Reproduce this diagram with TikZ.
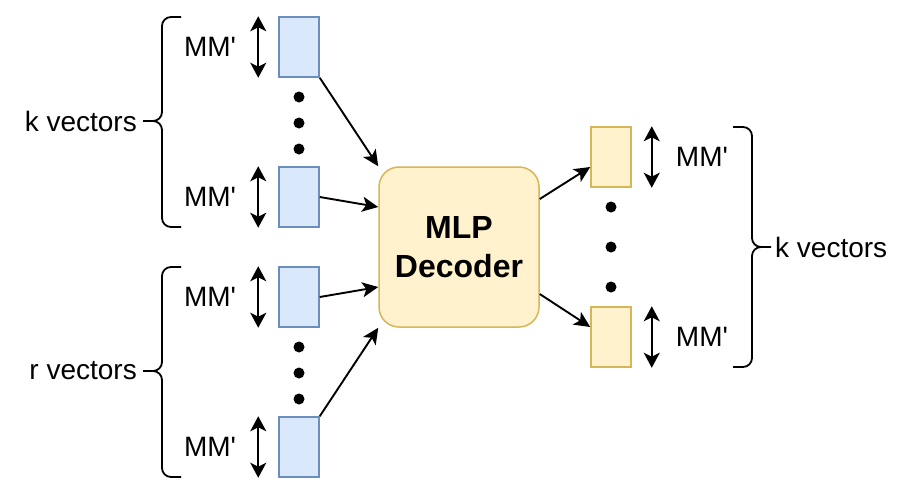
\documentclass[tikz,border=0pt]{standalone}
\usepackage{fontspec}
\newfontfamily\arial{Liberation Sans}
\usetikzlibrary{arrows.meta}

\definecolor{blueFill}{HTML}{DAE8FC}
\definecolor{blueLine}{HTML}{6C8EBF}
\definecolor{yellowFill}{HTML}{FFF2CC}
\definecolor{yellowLine}{HTML}{D6B656}

\tikzstyle{invec} = [draw=blueLine, fill=blueFill, line width=1.5pt, minimum width=40pt, minimum height=60pt, inner sep=0pt]
\tikzstyle{outvec} = [draw=yellowLine, fill=yellowFill, line width=1.5pt, minimum width=40pt, minimum height=60pt, inner sep=0pt]
\tikzstyle{decoder} = [draw=yellowLine, fill=yellowFill, line width=1.5pt, rounded corners=20pt, minimum width=160pt, minimum height=160pt, align=center, font=\arial\fontsize{32}{38.5}\selectfont\bfseries]
\tikzstyle{conn} = [-{Stealth[length=16pt,width=15pt,inset=4pt]}, line width=1.9pt]
\tikzstyle{span} = [{Stealth[length=15pt,width=16pt,inset=4pt]}-{Stealth[length=15pt,width=16pt,inset=4pt]}, line width=1.9pt]
\tikzstyle{dot} = [circle, fill, minimum size=11pt, inner sep=0pt]
\tikzstyle{lbl} = [font=\arial\fontsize{28}{33}\selectfont, inner sep=0pt]
\tikzstyle{brace} = [line width=1.8pt, rounded corners=9pt]

\begin{document}
\begin{tikzpicture}[x=1pt, y=-1pt]
	\useasboundingbox (0,0) rectangle (912,496);

	% input vectors
	\node[invec] (inK1) at (299,47) {};
	\node[invec] (inK2) at (299,197) {};
	\node[invec] (inR1) at (299,297) {};
	\node[invec] (inR2) at (299,447) {};

	% decoder and output vectors
	\node[decoder] (dec) at (459,247) {MLP\\Decoder};
	\node[outvec] (outK1) at (611,157) {};
	\node[outvec] (outK2) at (611,337) {};

	% dots
	\foreach \y in {97,123,149,347,373,399}
	    \node[dot] (dl\y) at (299,\y) {};
	\foreach \y in {207,247,287}
	    \node[dot] (dr\y) at (611,\y) {};

	% sizes
	\foreach \v in {inK1,inK2,inR1,inR2} {
	    \draw[span] ([xshift=-20pt]\v.north west) -- ([xshift=-20pt]\v.south west);
	    \node[lbl, anchor=east] (mm\v) at ([xshift=-42pt]\v.west) {MM'};
	}
	\foreach \v in {outK1,outK2} {
	    \draw[span] ([xshift=20pt]\v.north east) -- ([xshift=20pt]\v.south east);
	    \node[lbl, anchor=west] (mm\v) at ([xshift=44pt]\v.east) {MM'};
	}

	% braces
	\draw[brace] (181,17) -- (162,17) -- (162,121) -- (143,121)
	    (143,121) -- (162,121) -- (162,227) -- (181,227);
	\draw[brace] (181,267) -- (162,267) -- (162,371) -- (143,371)
	    (143,371) -- (162,371) -- (162,477) -- (181,477);
	\draw[brace] (733,127) -- (752,127) -- (752,247) -- (771,247)
	    (771,247) -- (752,247) -- (752,367) -- (733,367);
	\node[lbl, anchor=east] (kIn) at (137,121) {k vectors};
	\node[lbl, anchor=east] (rIn) at (137,371) {r vectors};
	\node[lbl, anchor=west] (kOut) at (775,247) {k vectors};

	% connectors
	\draw[conn] (inK1.south east) -- (dec.north west);
	\draw[conn] (inK2.east) -- ([yshift=40pt]dec.west);
	\draw[conn] (inR1.east) -- ([yshift=-40pt]dec.west);
	\draw[conn] (inR2.north east) -- (dec.south west);
	\draw[conn] ([yshift=48pt]dec.east) -- ([yshift=-10pt]outK1.west);
	\draw[conn] ([yshift=-47pt]dec.east) -- ([yshift=10pt]outK2.west);
\end{tikzpicture}
\end{document}
